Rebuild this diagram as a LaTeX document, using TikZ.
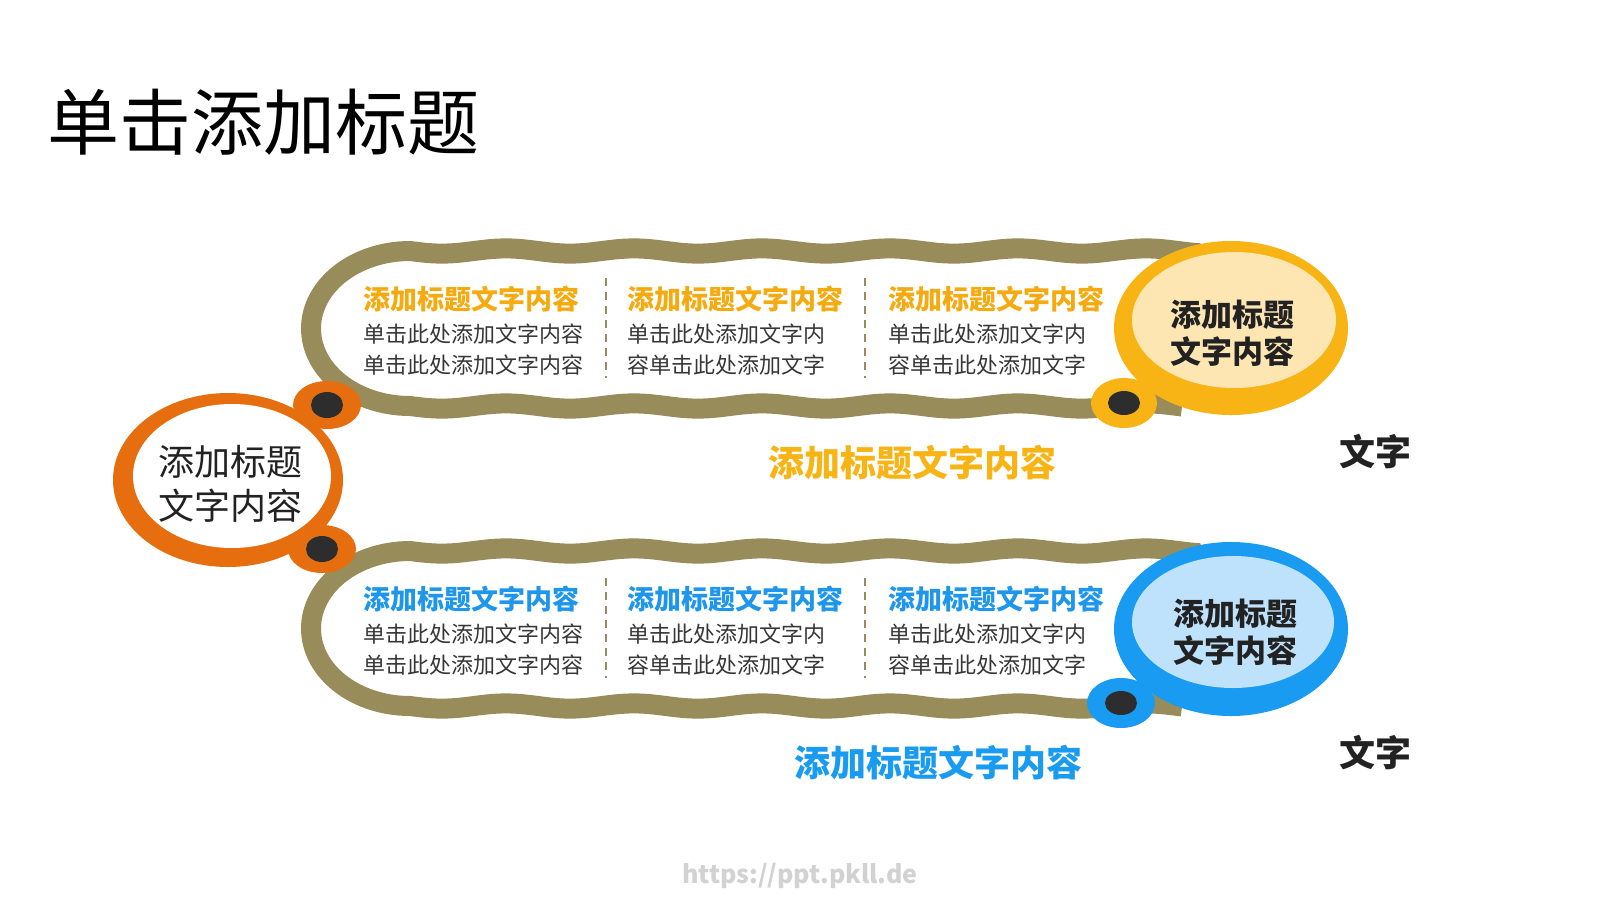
\documentclass[tikz,border=0pt]{standalone}
\usepackage{fontspec}
\setmainfont{Noto Sans CJK SC}
\definecolor{bandolive}{RGB}{152,141,90}
\definecolor{ringyellow}{RGB}{247,180,20}
\definecolor{fillyellow}{RGB}{253,230,178}
\definecolor{ringblue}{RGB}{24,155,240}
\definecolor{fillblue}{RGB}{190,226,251}
\definecolor{ringorange}{RGB}{230,110,15}
\definecolor{dotdark}{RGB}{45,45,45}
\definecolor{headyellow}{RGB}{245,170,15}
\definecolor{headblue}{RGB}{30,150,235}
\definecolor{bodytext}{RGB}{55,55,55}
\definecolor{darktext}{RGB}{34,34,34}
\definecolor{wmgray}{RGB}{210,210,210}
\begin{document}
\begin{tikzpicture}[x=1pt,y=-1pt,
  band/.style={draw=bandolive, line width=20pt, line join=round},
  divider/.style={draw=bandolive, line width=2pt, dash pattern=on 8pt off 6pt},
  headY/.style={font=\bfseries\fontsize{27}{27}\selectfont, text=headyellow, anchor=west, inner sep=0pt},
  headB/.style={font=\bfseries\fontsize{27}{27}\selectfont, text=headblue, anchor=west, inner sep=0pt},
  bodytxt/.style={font=\fontsize{22}{22}\selectfont, text=bodytext, anchor=west, inner sep=0pt},
  circtxt/.style={font=\bfseries\fontsize{31}{37}\selectfont, text=darktext, align=center, inner sep=0pt},
  bigtxt/.style={font=\bfseries\fontsize{36}{36}\selectfont, inner sep=0pt}
]
\useasboundingbox[fill=white] (0,0) rectangle (1600,900);

% title
\node[font=\fontsize{72}{72}\selectfont, text=black, anchor=west, inner sep=0pt] (title) at (47,122) {单击添加标题};

% wavy bands
\foreach \dy in {0,300} {
  \draw[band] plot[domain=1200:410, samples=220] (\x,{251+\dy+2.6*sin((\x-410)/128*360)})
    -- plot[domain=90:270, samples=60] ({410+99*cos(\x)},{328.5+\dy-77.5*sin(\x)})
    -- plot[domain=410:1182, samples=220] (\x,{406+\dy+2.6*sin((\x-410)/128*360)});
}

% orange left circle
\fill[ringorange] (228,480) ellipse[x radius=115, y radius=87];
\fill[white] (232,476) ellipse[x radius=99, y radius=72];
\fill[ringorange] (327,405) ellipse[x radius=34, y radius=24];
\fill[ringorange] (322,549) ellipse[x radius=34, y radius=24];
\fill[dotdark] (327,405) ellipse[x radius=16, y radius=13];
\fill[dotdark] (322,549) ellipse[x radius=16, y radius=13];
\node[font=\fontsize{36}{44}\selectfont, text=darktext, align=center, inner sep=0pt] (otxt) at (230,484) {添加标题\\文字内容};

% yellow circle
\fill[ringyellow] (1231,328) ellipse[x radius=117, y radius=87];
\fill[fillyellow] (1234,320) ellipse[x radius=102, y radius=68];
\fill[ringyellow] (1124,403) ellipse[x radius=33, y radius=25];
\fill[dotdark] (1124,403) ellipse[x radius=16, y radius=12];
\node[circtxt] (ytxt) at (1232,333) {添加标题\\文字内容};

% blue circle
\fill[ringblue] (1231,629) ellipse[x radius=117, y radius=87];
\fill[fillblue] (1233,622) ellipse[x radius=101, y radius=66];
\fill[ringblue] (1121,703) ellipse[x radius=34, y radius=25];
\fill[dotdark] (1121,703) ellipse[x radius=16, y radius=12];
\node[circtxt] (btxt) at (1235,632) {添加标题\\文字内容};

% columns
\foreach \dy/\hs/\n in {0/headY/a,300/headB/b} {
  \node[\hs] (h1\n) at (363,{299+\dy}) {添加标题文字内容};
  \node[bodytxt] (p1\n) at (363,{334+\dy}) {单击此处添加文字内容};
  \node[bodytxt] (q1\n) at (363,{365+\dy}) {单击此处添加文字内容};
  \node[\hs] (h2\n) at (627,{299+\dy}) {添加标题文字内容};
  \node[bodytxt] (p2\n) at (627,{334+\dy}) {单击此处添加文字内};
  \node[bodytxt] (q2\n) at (627,{365+\dy}) {容单击此处添加文字};
  \node[\hs] (h3\n) at (888,{299+\dy}) {添加标题文字内容};
  \node[bodytxt] (p3\n) at (888,{334+\dy}) {单击此处添加文字内};
  \node[bodytxt] (q3\n) at (888,{365+\dy}) {容单击此处添加文字};
  \coordinate (d1t\n) at (606,{278+\dy});
  \coordinate (d1b\n) at (606,{378+\dy});
  \coordinate (d2t\n) at (865,{278+\dy});
  \coordinate (d2b\n) at (865,{378+\dy});
  \draw[divider] (d1t\n) -- (d1b\n);
  \draw[divider] (d2t\n) -- (d2b\n);
}

% labels below bands
\node[bigtxt, text=ringyellow] (ylab) at (912,463) {添加标题文字内容};
\node[bigtxt, text=ringblue] (blab) at (938,763) {添加标题文字内容};
\node[bigtxt, text=darktext] (w1) at (1375,452) {文字};
\node[bigtxt, text=darktext] (w2) at (1375,753) {文字};

% watermark
\node[font=\bfseries\fontsize{25}{25}\selectfont, text=wmgray, inner sep=0pt] (wm) at (800,876) {https://ppt.pkll.de};
\end{tikzpicture}
\end{document}
